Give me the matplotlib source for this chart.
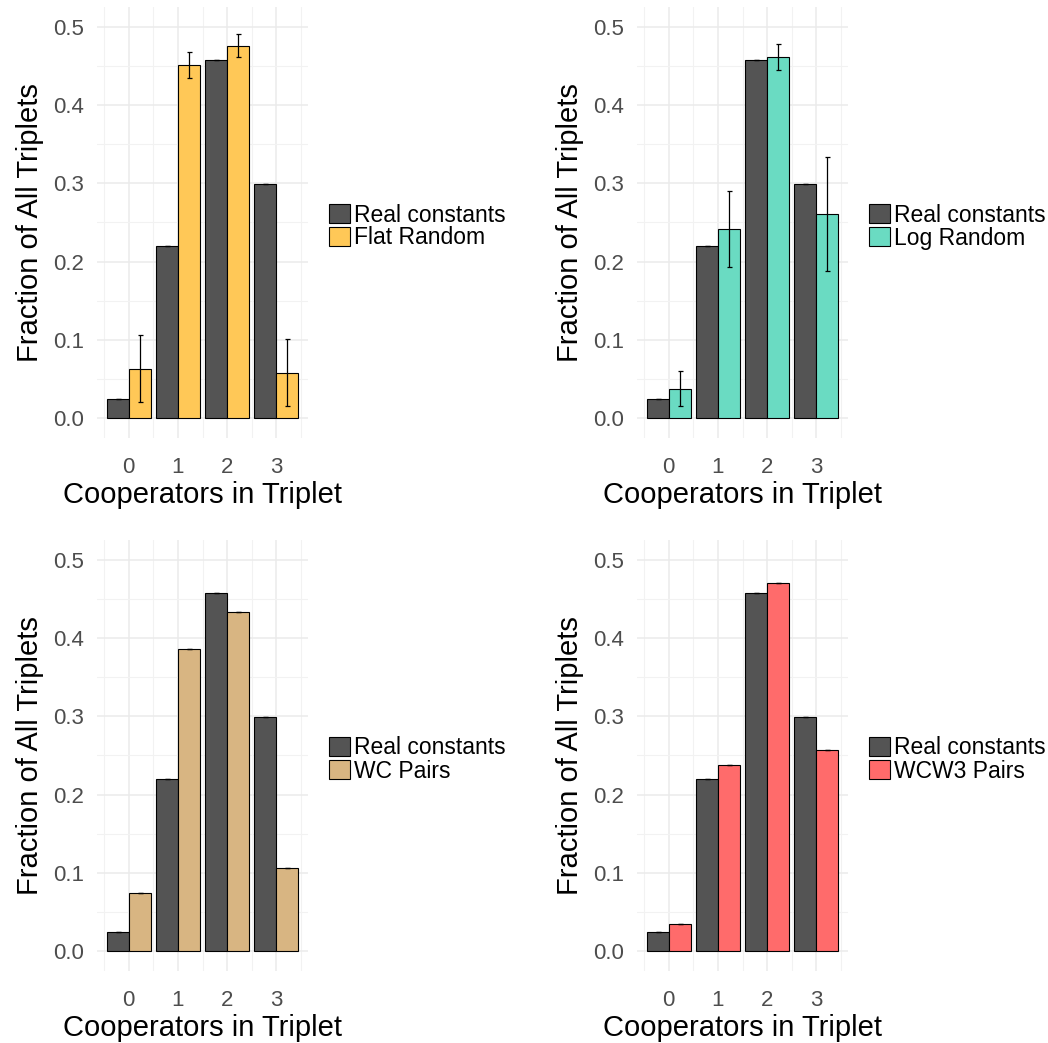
import matplotlib
matplotlib.use("Agg")
import matplotlib.pyplot as plt
from matplotlib.patches import Patch
from matplotlib.ticker import MultipleLocator
import numpy as np

plt.rcParams['font.family'] = ['Liberation Sans', 'DejaVu Sans']

cooperators = [0, 1, 2, 3]

real = [0.0252, 0.2198, 0.4578, 0.2987]
real_err = [0.0, 0.0, 0.0, 0.0]

flat = [0.0636, 0.4506, 0.4757, 0.0582]
flat_err = [0.043, 0.0165, 0.0145, 0.043]

logr = [0.0376, 0.2417, 0.4609, 0.2609]
logr_err = [0.0224, 0.0484, 0.0165, 0.0725]

wc = [0.0750, 0.3860, 0.4330, 0.1066]
wc_err = [0.0, 0.0, 0.0, 0.0]

wcw3 = [0.0354, 0.2374, 0.4700, 0.2575]
wcw3_err = [0.0, 0.0, 0.0, 0.0]

DARK = "#545454"
panels = [
    ("Flat Random", flat, flat_err, "#FFC857"),
    ("Log Random", logr, logr_err, "#6ADBC2"),
    ("WC Pairs", wc, wc_err, "#D8B582"),
    ("WCW3 Pairs", wcw3, wcw3_err, "#FF6B6B"),
]

W, H = 1048, 1043
fig = plt.figure(figsize=(W / 100, H / 100), dpi=100)

# panel boxes in pixels: left, top, right, bottom
boxes = [(97, 7, 308, 438), (637, 7, 848, 438),
         (97, 540, 308, 971), (637, 540, 848, 971)]

bw = 0.45
x = np.array(cooperators)

for (name, vals, errs, col), (l, t, r, b) in zip(panels, boxes):
    ax = fig.add_axes([l / W, 1 - b / H, (r - l) / W, (b - t) / H])
    ax.set_xlim(-0.645, 3.645)
    ax.set_ylim(-0.025, 0.525)
    ax.xaxis.set_major_locator(MultipleLocator(1))
    ax.xaxis.set_minor_locator(MultipleLocator(0.5))
    ax.yaxis.set_major_locator(MultipleLocator(0.1))
    ax.yaxis.set_minor_locator(MultipleLocator(0.05))
    ax.grid(True, which="major", color="#EBEBEB", linewidth=1.1)
    ax.grid(True, which="minor", color="#F2F2F2", linewidth=0.8)
    ax.set_axisbelow(True)
    for s in ax.spines.values():
        s.set_visible(False)
    ax.tick_params(which="both", length=0, labelsize=16, colors="#4D4D4D")
    ax.tick_params(axis="y", pad=9)
    ax.tick_params(axis="x", pad=14)
    ax.set_yticks([0, 0.1, 0.2, 0.3, 0.4, 0.5])
    ax.set_yticklabels(["0.0", "0.1", "0.2", "0.3", "0.4", "0.5"])

    ax.bar(x - bw / 2, real, width=bw, color=DARK, edgecolor="black", linewidth=0.8)
    ax.bar(x + bw / 2, vals, width=bw, color=col, edgecolor="black", linewidth=0.8)
    ax.errorbar(x - bw / 2, real, yerr=real_err, fmt="none", ecolor="black",
                elinewidth=0.9, capsize=1.8, capthick=0.9)
    ax.errorbar(x + bw / 2, vals, yerr=errs, fmt="none", ecolor="black",
                elinewidth=0.9, capsize=1.8, capthick=0.9)

    ax.set_xlabel("Cooperators in Triplet", fontsize=21, labelpad=2)
    ax.set_ylabel("Fraction of All Triplets", fontsize=21, labelpad=7)

    handles = [Patch(facecolor=DARK, edgecolor="black", linewidth=0.8),
               Patch(facecolor=col, edgecolor="black", linewidth=0.8)]
    ax.legend(handles, ["Real constants", name], loc="center left",
              bbox_to_anchor=((r + 21) / W, 1 - (t + b + 8) / 2 / H),
              bbox_transform=fig.transFigure, frameon=False, fontsize=16.5,
              handlelength=0.9, handleheight=0.9, handletextpad=0.2,
              labelspacing=0.0, borderaxespad=0, borderpad=0)

fig.savefig("out.png", dpi=100)
